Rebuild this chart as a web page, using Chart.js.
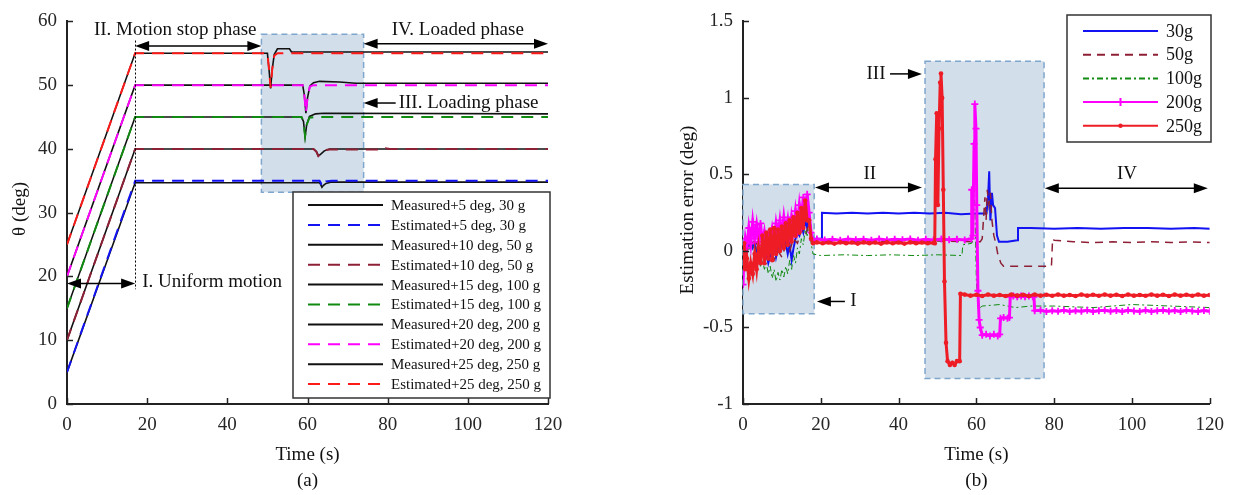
<!DOCTYPE html>
<html>
<head>
<meta charset="utf-8">
<script src="https://cdn.jsdelivr.net/npm/chart.js@4.4.1/dist/chart.umd.min.js"></script>
<style>
  html, body { margin: 0; padding: 0; background: #fff; }
  #wrap { position: relative; width: 1234px; height: 495px; overflow: hidden; }
  canvas { position: absolute; top: 0; }
  #chartA { left: 0; }
  #chartB { left: 617px; }
</style>
</head>
<body>
<div id="wrap">
  <canvas id="chartA" width="600" height="495"></canvas>
  <canvas id="chartB" width="617" height="495"></canvas>
</div>
<script>
const FONT = "'Liberation Serif', 'Times New Roman', serif";
const INK = '#222';

// ---- (a) joint angle: measured vs estimated (offset added per load) ----
const tA30    = [0, 17, 63, 63.3, 63.6, 64.0, 64.6, 66, 120];
const measA30 = [5, 34.7, 34.7, 34.4, 34.0, 34.3, 34.6, 34.8, 34.8];
const estA30  = [5, 35, 35, 34.7, 34.1, 34.5, 34.9, 35, 35];

const tA50    = [0, 17, 61.5, 62.2, 62.7, 63.3, 64.2, 65.5, 79, 79.5, 80.5, 120];
const measA50 = [10, 40, 40, 39.6, 38.9, 39.2, 39.7, 40, 40, 40, 40, 40];
const estA50  = [10, 40, 40, 39.6, 38.9, 39.3, 39.8, 39.9, 39.9, 40.1, 40, 40];

const tA100    = [0, 17, 58.5, 59, 59.4, 59.8, 60.5, 62, 64, 120];
const measA100 = [15, 45, 45, 44.3, 41.9, 43.8, 45.1, 45.5, 45.6, 45.5];
const estA100  = [15, 45, 45, 44.3, 42.0, 43.8, 44.9, 45, 45, 45];

const tA200    = [0, 17, 58.8, 59.2, 59.6, 60.0, 60.6, 61.5, 63, 68, 72, 120];
const measA200 = [20, 50, 50, 48.5, 45.6, 48, 49.9, 50.4, 50.6, 50.5, 50.3, 50.3];
const estA200  = [20, 50, 50, 48.5, 45.7, 48, 49.8, 50, 50, 50, 50, 50];

const tA250    = [0, 17, 50, 50.4, 50.8, 51.2, 51.7, 52.5, 55.5, 56, 120];
const measA250 = [25, 55, 55, 52.5, 49.5, 52.5, 54.8, 55.7, 55.7, 55.2, 55.2];
const estA250  = [25, 55, 55, 52.5, 49.6, 52.5, 54.6, 55, 55, 55, 55];

const angleLabels = ['5 deg, 30 g', '10 deg, 50 g', '15 deg, 100 g', '20 deg, 200 g', '25 deg, 250 g'];

// ---- (b) estimation error per load ----
const tB30 = [0,0.5,1,1.5,2,2.5,3,3.5,4,4.5,5,5.5,6,6.5,7,7.5,8,8.5,9,9.5,10,10.5,11,11.5,12,12.5,13,13.5,14,14.5,15,15.5,16,16.5,17,17.5,18,
  19,20.2,20.3,24,28,32,36,40,44,48,52,56,60,62.6,63,63.3,63.6,64,64.3,64.8,65.3,65.8,68,70.5,70.7,74,80,86,92,98,104,110,116,120];
const eB30 = [0.02,0.05,0.0,0.04,0.06,0.02,0.05,0.0,0.03,-0.02,0.02,-0.05,-0.02,-0.08,-0.03,0.0,0.05,-0.04,0.02,0.08,0.03,0.1,0.05,-0.02,0.04,-0.06,0.02,0.08,0.12,0.1,0.16,0.12,0.2,0.15,0.22,0.12,0.08,
  0.08,0.08,0.25,0.245,0.25,0.245,0.25,0.245,0.25,0.245,0.25,0.24,0.245,0.245,0.35,0.52,0.2,0.38,0.3,0.28,0.1,0.06,0.06,0.07,0.15,0.15,0.145,0.15,0.145,0.15,0.15,0.145,0.15,0.145];

const tB50 = [0,1,2,3,4,5,6,7,8,9,10,11,12,13,14,15,16,17,18,20,30,40,50,61,61.5,62.2,62.5,62.8,63.2,63.6,64,64.5,65,65.5,66.3,67,72,76,79.3,79.6,80,85,90,95,100,105,110,115,120];
const eB50 = [0,0.06,0.03,0.08,0.02,0.05,-0.03,0.02,-0.06,0.0,-0.04,0.04,0.0,0.08,0.05,0.14,0.1,0.18,0.06,0.06,0.065,0.06,0.065,0.06,0.08,0.35,0.2,0.4,0.3,0.38,0.2,0.1,0.05,-0.02,-0.08,-0.1,-0.1,-0.1,-0.1,0.08,0.07,0.06,0.055,0.06,0.055,0.06,0.055,0.06,0.055];

const tB100 = [0,0.5,1,1.5,2,2.5,3,3.5,4,4.5,5,5.5,6,6.5,7,7.5,8,8.5,9,9.5,10,10.5,11,11.5,12,12.5,13,13.5,14,14.5,15,15.5,16,16.5,17,17.5,18,
  20,26,32,38,44,50,56.3,56.5,58.8,59,59.2,59.6,60,60.5,61.5,66,70,74,80,90,100,110,120];
const eB100 = [0.05,-0.02,0.04,0.0,0.05,0.02,0.03,-0.05,-0.02,-0.1,-0.06,-0.12,-0.08,-0.15,-0.1,-0.18,-0.12,-0.2,-0.14,-0.19,-0.12,-0.17,-0.1,-0.15,-0.06,-0.12,-0.03,-0.08,0.02,-0.02,0.08,0.04,0.14,0.1,0.17,0.05,-0.02,
  -0.03,-0.025,-0.03,-0.025,-0.03,-0.025,-0.03,0.04,0.05,0.1,0.5,0.3,-0.2,-0.38,-0.36,-0.35,-0.37,-0.36,-0.36,-0.37,-0.35,-0.36,-0.37];

const tB200 = [0,0.3,0.6,1,1.5,2,2.5,3,3.5,4,4.5,5,5.5,6,6.5,7,7.5,8,8.5,9,9.5,10,10.5,11,11.5,12,12.5,13,13.5,14,14.5,15,15.5,16,16.5,17,17.5,18,
  19,21,23,25,27,29,31,33,35,37,39,41,43,45,47,49,51,53,55,57,
  58.7,58.8,59.1,59.4,59.6,59.9,60.1,60.4,60.7,61,61.5,62.5,63.5,64.5,65.5,66,66.2,67,68,68.5,68.7,69.5,70.5,71.5,72.5,73.5,74.5,74.8,75,
  76.5,78,79.5,81,82.5,84,85.5,87,88.5,90,91.5,93,94.5,96,97.5,99,100.5,102,103.5,105,106.5,108,109.5,111,112.5,114,115.5,117,118.5,120];
const eB200 = [-0.22,0.0,0.08,0.02,0.15,0.05,0.19,0.08,0.17,0.06,0.18,0.04,0.12,0.02,0.1,0.05,0.14,0.06,0.18,0.1,0.2,0.1,0.22,0.12,0.2,0.08,0.22,0.14,0.26,0.16,0.3,0.2,0.35,0.22,0.37,0.25,0.12,0.07,
  0.078,0.072,0.077,0.07,0.078,0.073,0.077,0.07,0.078,0.072,0.077,0.073,0.078,0.07,0.077,0.072,0.078,0.073,0.077,0.072,
  0.08,0.4,0.1,0.7,0.96,0.8,0.3,-0.26,-0.45,-0.5,-0.55,-0.545,-0.555,-0.545,-0.555,-0.545,-0.44,-0.435,-0.44,-0.435,-0.3,-0.295,-0.3,-0.295,-0.3,-0.295,-0.3,-0.3,-0.39,
  -0.388,-0.395,-0.39,-0.394,-0.387,-0.395,-0.39,-0.394,-0.388,-0.396,-0.39,-0.387,-0.394,-0.389,-0.396,-0.387,-0.392,-0.395,-0.388,-0.396,-0.39,-0.387,-0.394,-0.389,-0.396,-0.388,-0.392,-0.395,-0.389,-0.394];

const tB250 = [0,0.3,0.6,1,1.5,2,2.5,3,3.5,4,4.5,5,5.5,6,6.5,7,7.5,8,8.5,9,9.5,10,10.5,11,11.5,12,12.5,13,13.5,14,14.5,15,15.5,16,16.5,17,17.5,18,
  19,20.5,22,23.5,25,26.5,28,29.5,31,32.5,34,35.5,37,38.5,40,41.5,43,44.5,46,47.5,49,
  49.3,49.5,49.8,50.1,50.4,50.7,50.9,51.2,51.5,51.8,52.2,52.6,53.2,53.8,54.4,55,55.7,55.9,
  57,58.5,60,61.5,63,64.5,66,67.5,69,70.5,72,73.5,75,76.5,78,79.5,81,82.5,84,85.5,87,88.5,90,91.5,93,94.5,96,97.5,99,100.5,102,103.5,105,106.5,108,109.5,111,112.5,114,115.5,117,118.5,120];
const eB250 = [-0.1,0.05,-0.12,-0.05,-0.18,-0.08,-0.15,-0.02,-0.12,0.02,-0.08,0.1,-0.08,0.12,-0.05,0.14,-0.06,0.15,-0.02,0.14,0.0,0.16,0.02,0.18,0.04,0.2,0.06,0.22,0.1,0.25,0.12,0.28,0.15,0.33,0.2,0.2,0.08,0.05,
  0.056,0.05,0.055,0.048,0.056,0.05,0.055,0.048,0.056,0.051,0.055,0.048,0.056,0.05,0.055,0.048,0.056,0.05,0.055,0.05,0.053,
  0.05,0.6,0.9,0.3,0.8,1.1,1.16,1.0,0.4,-0.2,-0.6,-0.72,-0.745,-0.73,-0.745,-0.72,-0.72,-0.28,
  -0.285,-0.292,-0.286,-0.294,-0.285,-0.292,-0.288,-0.294,-0.285,-0.292,-0.286,-0.294,-0.285,-0.292,-0.286,-0.293,-0.285,-0.292,-0.288,-0.294,
  -0.285,-0.292,-0.286,-0.293,-0.285,-0.292,-0.286,-0.294,-0.285,-0.292,-0.288,-0.293,-0.285,-0.292,-0.286,-0.294,-0.285,-0.292,-0.286,-0.293,
  -0.285,-0.292,-0.288];

const loadLabels = ['30g', '50g', '100g', '200g', '250g'];

// colours
const BLUE = '#1212f2', WINE = '#8e2036', GREEN = '#118a11', MAGENTA = '#ff00ff', RED = '#ee1c25';

function pts(ts, vs) {
  return ts.map((t, i) => ({ x: t, y: vs[i] }));
}

function arrowHead(ctx, x, y, dir) {
  const len = 14, half = 5;
  ctx.beginPath();
  ctx.moveTo(x, y);
  ctx.lineTo(x - dir * len, y - half);
  ctx.lineTo(x - dir * len, y + half);
  ctx.closePath();
  ctx.fill();
}

// draws shaded phase boxes, arrows, notes, inward ticks, legend and axis titles
function overlay(cfg) {
  return {
    id: 'overlay',
    beforeDatasetsDraw(chart) {
      const { ctx, scales: { x, y } } = chart;
      ctx.save();
      cfg.boxes.forEach(b => {
        const l = x.getPixelForValue(b.t0), r = x.getPixelForValue(b.t1);
        const t = y.getPixelForValue(b.v1), btm = y.getPixelForValue(b.v0);
        ctx.fillStyle = '#d2deea';
        ctx.fillRect(l, t, r - l, btm - t);
        ctx.setLineDash([6, 4]);
        ctx.lineWidth = 1.5;
        ctx.strokeStyle = '#7fa6cc';
        ctx.strokeRect(l, t, r - l, btm - t);
      });
      ctx.restore();
    },
    afterDraw(chart) {
      const { ctx, chartArea: area, scales: { x, y } } = chart;
      ctx.save();

      // tick marks point inward
      ctx.strokeStyle = INK;
      ctx.lineWidth = 1.5;
      x.ticks.forEach(tk => {
        const px = Math.round(x.getPixelForValue(tk.value)) + 0.5;
        ctx.beginPath(); ctx.moveTo(px, area.bottom); ctx.lineTo(px, area.bottom - 6); ctx.stroke();
      });
      y.ticks.forEach(tk => {
        const py = Math.round(y.getPixelForValue(tk.value)) + 0.5;
        ctx.beginPath(); ctx.moveTo(area.left, py); ctx.lineTo(area.left + 6, py); ctx.stroke();
      });

      // dotted guide lines
      (cfg.vlines || []).forEach(v => {
        const px = Math.round(x.getPixelForValue(v.t)) + 0.5;
        ctx.setLineDash([2, 2]);
        ctx.lineWidth = 1;
        ctx.strokeStyle = '#000';
        ctx.beginPath(); ctx.moveTo(px, y.getPixelForValue(v.v1)); ctx.lineTo(px, y.getPixelForValue(v.v0)); ctx.stroke();
      });
      ctx.setLineDash([]);

      // phase arrows
      ctx.fillStyle = '#000';
      ctx.strokeStyle = '#000';
      ctx.lineWidth = 1.5;
      cfg.arrows.forEach(a => {
        const x0 = x.getPixelForValue(a.t0), x1 = x.getPixelForValue(a.t1);
        const py = y.getPixelForValue(a.v);
        const dir = x1 > x0 ? 1 : -1;
        ctx.beginPath();
        ctx.moveTo(a.both ? x0 + dir * 10 : x0, py);
        ctx.lineTo(x1 - dir * 10, py);
        ctx.stroke();
        arrowHead(ctx, x1, py, dir);
        if (a.both) arrowHead(ctx, x0, py, -dir);
      });

      // phase notes
      ctx.font = '19px ' + FONT;
      ctx.textBaseline = 'middle';
      ctx.fillStyle = '#111';
      cfg.notes.forEach(n => {
        ctx.textAlign = n.align || 'center';
        ctx.fillText(n.text, x.getPixelForValue(n.t), y.getPixelForValue(n.v));
      });

      // legend box
      const L = cfg.legend;
      ctx.fillStyle = '#fff';
      ctx.fillRect(L.x, L.y, L.w, L.h);
      ctx.strokeStyle = '#333';
      ctx.lineWidth = 1.5;
      ctx.strokeRect(L.x, L.y, L.w, L.h);
      ctx.font = L.size + 'px ' + FONT;
      ctx.textAlign = 'left';
      chart.data.datasets.forEach((ds, i) => {
        const ly = L.y + L.first + i * L.step;
        ctx.setLineDash(ds.borderDash || []);
        ctx.strokeStyle = ds.borderColor;
        ctx.lineWidth = 2;
        ctx.beginPath(); ctx.moveTo(L.x + L.l0, ly); ctx.lineTo(L.x + L.l1, ly); ctx.stroke();
        ctx.setLineDash([]);
        const mx = L.x + (L.l0 + L.l1) / 2;
        if (ds.pointStyle === 'cross' && ds.pointRadius > 0) {
          ctx.lineWidth = 2;
          ctx.beginPath();
          ctx.moveTo(mx - 4, ly); ctx.lineTo(mx + 4, ly);
          ctx.moveTo(mx, ly - 4); ctx.lineTo(mx, ly + 4);
          ctx.stroke();
        } else if (ds.pointStyle === 'circle' && ds.pointRadius > 0) {
          ctx.fillStyle = ds.borderColor;
          ctx.beginPath(); ctx.arc(mx, ly, 2.2, 0, Math.PI * 2); ctx.fill();
        }
        ctx.fillStyle = '#111';
        ctx.fillText(ds.label, L.x + L.tx, ly + 1);
      });

      // axis titles
      ctx.font = '19px ' + FONT;
      ctx.fillStyle = '#111';
      ctx.textAlign = 'center';
      const cx = (area.left + area.right) / 2;
      ctx.fillText('Time (s)', cx, 455);
      ctx.fillText(cfg.tag, cx, 481);
      ctx.save();
      ctx.translate(cfg.yTitle.x, cfg.yTitle.y);
      ctx.rotate(-Math.PI / 2);
      ctx.fillText(cfg.yTitle.text, 0, 0);
      ctx.restore();

      ctx.restore();
    }
  };
}

function axes(xPad, ymin, ymax, ystep, yWidth, fmt) {
  const tickFont = { family: FONT, size: 19 };
  return {
    x: {
      type: 'linear', min: 0, max: 120,
      ticks: { stepSize: 20, color: '#262626', font: tickFont, padding: xPad, maxRotation: 0, autoSkip: false },
      grid: { display: false, drawTicks: false },
      border: { display: true, color: INK, width: 2 },
      afterFit(s) { s.height = 91; }
    },
    y: {
      type: 'linear', min: ymin, max: ymax,
      ticks: { stepSize: ystep, color: '#262626', font: tickFont, padding: 10, autoSkip: false, callback: fmt },
      grid: { display: false, drawTicks: false },
      border: { display: true, color: INK, width: 2 },
      afterFit(s) { s.width = yWidth; }
    }
  };
}

// ---------- chart (a) ----------
const angleTimes = [tA30, tA50, tA100, tA200, tA250];
const angleMeas = [measA30, measA50, measA100, measA200, measA250];
const angleEst = [estA30, estA50, estA100, estA200, estA250];
const angleColors = [BLUE, WINE, GREEN, MAGENTA, '#ff1a1a'];

const dsA = [];
angleLabels.forEach((lab, i) => {
  dsA.push({
    label: 'Measured+' + lab, data: pts(angleTimes[i], angleMeas[i]),
    borderColor: '#111', borderWidth: 1.6, pointRadius: 0, tension: 0, order: 1
  });
  dsA.push({
    label: 'Estimated+' + lab, data: pts(angleTimes[i], angleEst[i]),
    borderColor: angleColors[i], borderWidth: 2, borderDash: [12, 8], pointRadius: 0, tension: 0, order: 0
  });
});

new Chart(document.getElementById('chartA'), {
  type: 'line',
  data: { datasets: dsA },
  options: {
    responsive: false,
    animation: false,
    events: [],
    layout: { padding: { left: 0, right: 52, top: 14, bottom: 0 } },
    plugins: { legend: { display: false }, tooltip: { enabled: false } },
    scales: axes(10, 0, 60, 10, 67)
  },
  plugins: [overlay({
    boxes: [{ t0: 48.5, t1: 74, v0: 33.2, v1: 58 }],
    vlines: [{ t: 17, v0: 18, v1: 57 }],
    arrows: [
      { t0: 17, t1: 48.5, v: 56.15, both: true },
      { t0: 74, t1: 120, v: 56.5, both: true },
      { t0: 82, t1: 74, v: 47.2 },
      { t0: 0, t1: 17, v: 18.9, both: true }
    ],
    notes: [
      { t: 27, v: 58.6, text: 'II. Motion stop phase' },
      { t: 97.5, v: 58.6, text: 'IV. Loaded phase' },
      { t: 82.75, v: 47.2, text: 'III. Loading phase', align: 'left' },
      { t: 18.75, v: 19.1, text: 'I. Uniform motion', align: 'left' }
    ],
    legend: { x: 293, y: 192, w: 257, h: 206, first: 13, step: 19.9, l0: 15, l1: 90, tx: 98, size: 15 },
    yTitle: { text: 'θ (deg)', x: 20, y: 209 },
    tag: '(a)'
  })]
});

// ---------- chart (b) ----------
const errTimes = [tB30, tB50, tB100, tB200, tB250];
const errVals = [eB30, eB50, eB100, eB200, eB250];
const errStyles = [
  { borderColor: BLUE, borderWidth: 2, pointRadius: 0 },
  { borderColor: WINE, borderWidth: 1.5, borderDash: [8, 6], pointRadius: 0 },
  { borderColor: GREEN, borderWidth: 1, borderDash: [6, 3, 2, 3], pointRadius: 0 },
  { borderColor: MAGENTA, borderWidth: 3, pointStyle: 'cross', pointRadius: 3.5, pointBorderWidth: 1.8, pointBorderColor: MAGENTA },
  { borderColor: RED, borderWidth: 3, pointStyle: 'circle', pointRadius: 2.3, pointBorderWidth: 0, pointBackgroundColor: RED }
];

const dsB = loadLabels.map((lab, i) => Object.assign({
  label: lab, data: pts(errTimes[i], errVals[i]), tension: 0, order: 5 - i
}, errStyles[i]));

new Chart(document.getElementById('chartB'), {
  type: 'line',
  data: { datasets: dsB },
  options: {
    responsive: false,
    animation: false,
    events: [],
    layout: { padding: { left: 0, right: 24, top: 16, bottom: 0 } },
    plugins: { legend: { display: false }, tooltip: { enabled: false } },
    scales: axes(10, -1, 1.5, 0.5, 126, v => String(v))
  },
  plugins: [overlay({
    boxes: [
      { t0: 0, t1: 18.3, v0: -0.41, v1: 0.435 },
      { t0: 46.8, t1: 77.4, v0: -0.834, v1: 1.24 }
    ],
    arrows: [
      { t0: 18.5, t1: 46, v: 0.415, both: true },
      { t0: 37.8, t1: 46, v: 1.157 },
      { t0: 77.6, t1: 119.5, v: 0.41, both: true },
      { t0: 26.2, t1: 19, v: -0.33 }
    ],
    notes: [
      { t: 32.6, v: 0.5, text: 'II' },
      { t: 34.2, v: 1.157, text: 'III' },
      { t: 98.7, v: 0.5, text: 'IV' },
      { t: 27.6, v: -0.33, text: 'I', align: 'left' }
    ],
    legend: { x: 450, y: 15, w: 144, h: 127, first: 16, step: 23.7, l0: 16, l1: 91, tx: 99, size: 18 },
    yTitle: { text: 'Estimation error (deg)', x: 71, y: 210 },
    tag: '(b)'
  })]
});
</script>
</body>
</html>
